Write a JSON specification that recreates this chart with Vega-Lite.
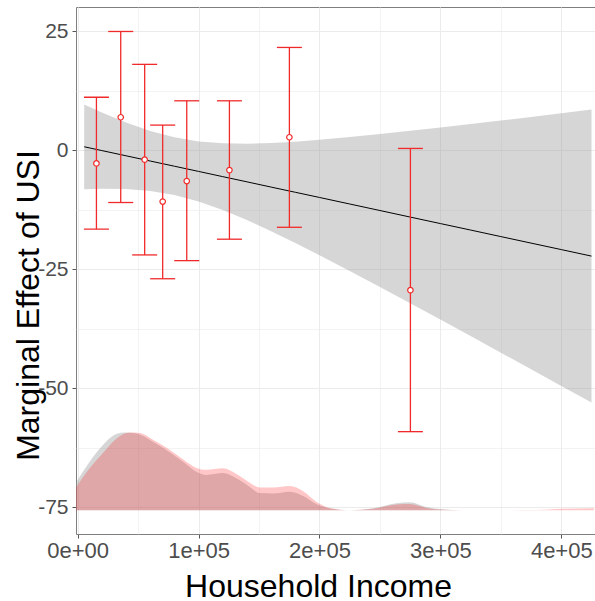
{
  "$schema": "https://vega.github.io/schema/vega-lite/v6.json",
  "autosize": {"type": "none"},
  "padding": {"left": 76, "top": 7, "right": 0, "bottom": 67},
  "width": 519,
  "height": 527,
  "background": "white",
  "config": {
    "view": {"stroke": "#7f7f7f", "strokeWidth": 1},
    "font": "Liberation Sans",
    "axis": {
      "domain": false,
      "tickColor": "#555555",
      "tickSize": 4,
      "labelColor": "#4d4d4d",
      "labelFont": "Liberation Sans",
      "labelFontSize": 21,
      "titleFont": "Liberation Sans",
      "titleFontSize": 32,
      "titleFontWeight": "normal",
      "titleColor": "black",
      "gridColor": "#ebebeb"
    }
  },
  "datasets": {
    "ribbon": [
      {"x": 5400, "fit": 0.7, "lo": -8.2, "hi": 9.6},
      {"x": 20000, "fit": -0.1, "lo": -8.11, "hi": 7.91},
      {"x": 40000, "fit": -1.19, "lo": -8.18, "hi": 5.8},
      {"x": 60000, "fit": -2.29, "lo": -8.59, "hi": 4.01},
      {"x": 80000, "fit": -3.38, "lo": -9.44, "hi": 2.68},
      {"x": 100000, "fit": -4.47, "lo": -10.77, "hi": 1.83},
      {"x": 120000, "fit": -5.57, "lo": -12.56, "hi": 1.42},
      {"x": 140000, "fit": -6.66, "lo": -14.67, "hi": 1.35},
      {"x": 160000, "fit": -7.76, "lo": -17.01, "hi": 1.49},
      {"x": 180000, "fit": -8.85, "lo": -19.48, "hi": 1.78},
      {"x": 200000, "fit": -9.94, "lo": -22.05, "hi": 2.17},
      {"x": 225000, "fit": -11.31, "lo": -25.35, "hi": 2.73},
      {"x": 250000, "fit": -12.68, "lo": -28.72, "hi": 3.36},
      {"x": 275000, "fit": -14.05, "lo": -32.14, "hi": 4.04},
      {"x": 300000, "fit": -15.42, "lo": -35.58, "hi": 4.74},
      {"x": 325000, "fit": -16.78, "lo": -39.03, "hi": 5.47},
      {"x": 350000, "fit": -18.15, "lo": -42.51, "hi": 6.21},
      {"x": 375000, "fit": -19.52, "lo": -46.0, "hi": 6.96},
      {"x": 400000, "fit": -20.88, "lo": -49.49, "hi": 7.73},
      {"x": 425000, "fit": -22.25, "lo": -53.0, "hi": 8.5}
    ],
    "bars": [
      {"x": 15500, "est": -2.8, "lo": -16.6, "hi": 11.1},
      {"x": 35600, "est": 6.9, "lo": -11.0, "hi": 24.9},
      {"x": 55400, "est": -2.0, "lo": -22.0, "hi": 18.0},
      {"x": 70300, "est": -10.8, "lo": -27.0, "hi": 5.25},
      {"x": 90200, "est": -6.5, "lo": -23.2, "hi": 10.35},
      {"x": 125500, "est": -4.2, "lo": -18.7, "hi": 10.35},
      {"x": 175100, "est": 2.7, "lo": -16.2, "hi": 21.55},
      {"x": 275200, "est": -29.4, "lo": -59.1, "hi": 0.35}
    ],
    "densGray": [
      {"x": -1400, "d": -69.8},
      {"x": 9900, "d": -65.4},
      {"x": 20900, "d": -61.9},
      {"x": 32000, "d": -59.6},
      {"x": 38900, "d": -59.3},
      {"x": 48500, "d": -59.5},
      {"x": 62300, "d": -61.2},
      {"x": 76100, "d": -63.4},
      {"x": 87100, "d": -65.4},
      {"x": 98200, "d": -67.5},
      {"x": 106500, "d": -68.2},
      {"x": 120200, "d": -67.8},
      {"x": 131300, "d": -68.9},
      {"x": 142300, "d": -70.7},
      {"x": 150500, "d": -72.0},
      {"x": 161500, "d": -72.1},
      {"x": 175400, "d": -71.7},
      {"x": 186500, "d": -72.6},
      {"x": 197400, "d": -74.3},
      {"x": 208400, "d": -75.2},
      {"x": 225000, "d": -75.6},
      {"x": 244300, "d": -75.2},
      {"x": 263600, "d": -74.1},
      {"x": 274600, "d": -73.9},
      {"x": 288400, "d": -74.9},
      {"x": 302000, "d": -75.4},
      {"x": 316000, "d": -75.6},
      {"x": 427000, "d": -75.6}
    ],
    "densPink": [
      {"x": -1400, "d": -70.8},
      {"x": 9900, "d": -66.8},
      {"x": 20900, "d": -63.6},
      {"x": 32000, "d": -60.6},
      {"x": 43000, "d": -59.3},
      {"x": 51300, "d": -59.4},
      {"x": 62300, "d": -60.8},
      {"x": 76100, "d": -62.9},
      {"x": 87100, "d": -64.9},
      {"x": 98200, "d": -66.7},
      {"x": 106500, "d": -67.1},
      {"x": 120200, "d": -66.8},
      {"x": 131300, "d": -68.0},
      {"x": 142300, "d": -69.8},
      {"x": 150500, "d": -70.8},
      {"x": 161500, "d": -70.8},
      {"x": 175400, "d": -70.5},
      {"x": 186500, "d": -71.6},
      {"x": 197400, "d": -73.8},
      {"x": 208400, "d": -75.1},
      {"x": 225000, "d": -75.6},
      {"x": 244300, "d": -75.3},
      {"x": 263600, "d": -74.4},
      {"x": 274600, "d": -74.3},
      {"x": 288400, "d": -75.1},
      {"x": 302000, "d": -75.5},
      {"x": 320000, "d": -75.6},
      {"x": 380000, "d": -75.55},
      {"x": 400000, "d": -75.3},
      {"x": 427000, "d": -75.2}
    ]
  },
  "encoding": {
    "x": {
      "field": "x",
      "type": "quantitative",
      "scale": {"domain": [-1400, 427880], "nice": false, "zero": false},
      "axis": {
        "title": "Household Income",
        "values": [0, 50000, 100000, 150000, 200000, 250000, 300000, 350000, 400000],
        "labelExpr": "datum.value == 0 ? '0e+00' : (datum.value % 100000 == 0 ? (datum.value / 100000) + 'e+05' : '')",
        "labelBaseline": "alphabetic",
        "labelFontSize": 22,
        "labelPadding": 19,
        "tickOpacity": {"condition": {"test": "datum.value % 100000 != 0", "value": 0}, "value": 1},
        "gridWidth": {"condition": {"test": "datum.value % 100000 != 0", "value": 0.6}, "value": 1},
        "titleX": 242,
        "titleY": 62,
        "titleAnchor": null,
        "titleAlign": "center",
        "titleBaseline": "alphabetic"
      }
    }
  },
  "layer": [
    {
      "data": {"name": "ribbon"},
      "mark": {"type": "area", "color": "#999999", "opacity": 0.4, "clip": true},
      "encoding": {
        "y": {
          "field": "hi",
          "type": "quantitative",
          "scale": {"domain": [-80.58, 30.04], "nice": false, "zero": false},
          "axis": {
            "title": "Marginal Effect of USI",
            "values": [-75, -62.5, -50, -37.5, -25, -12.5, 0, 12.5, 25],
            "labelExpr": "datum.value % 25 == 0 ? '' + datum.value : ''",
            "labelPadding": 4,
            "tickOpacity": {"condition": {"test": "datum.value % 25 != 0", "value": 0}, "value": 1},
            "gridWidth": {"condition": {"test": "datum.value % 25 != 0", "value": 0.6}, "value": 1},
            "titleAngle": 270,
            "titleX": -38,
            "titleY": 298,
            "titleAlign": "center",
            "titleAnchor": null,
            "titleBaseline": "alphabetic"
          }
        },
        "y2": {"field": "lo"}
      }
    },
    {
      "mark": {"type": "rule", "color": "#888888", "opacity": 0.35, "strokeWidth": 4},
      "encoding": {"y": {"datum": 0, "type": "quantitative"}, "x": null}
    },
    {
      "data": {"name": "ribbon"},
      "mark": {"type": "line", "color": "black", "strokeWidth": 1},
      "encoding": {"y": {"field": "fit", "type": "quantitative"}}
    },
    {
      "data": {"name": "densGray"},
      "mark": {"type": "area", "color": "#999999", "opacity": 0.4, "interpolate": "monotone", "clip": true},
      "encoding": {"y": {"field": "d", "type": "quantitative"}, "y2": {"datum": -75.6}}
    },
    {
      "data": {"name": "densPink"},
      "mark": {"type": "area", "color": "#ff0000", "opacity": 0.22, "interpolate": "monotone", "clip": true},
      "encoding": {"y": {"field": "d", "type": "quantitative"}, "y2": {"datum": -75.6}}
    },
    {
      "data": {"name": "bars"},
      "mark": {"type": "rule", "color": "#f02a2a", "strokeWidth": 1.3},
      "encoding": {"y": {"field": "lo", "type": "quantitative"}, "y2": {"field": "hi"}}
    },
    {
      "data": {"name": "bars"},
      "mark": {"type": "tick", "orient": "horizontal", "color": "#f02a2a", "size": 25, "thickness": 1.3, "opacity": 1},
      "encoding": {"y": {"field": "lo", "type": "quantitative"}}
    },
    {
      "data": {"name": "bars"},
      "mark": {"type": "tick", "orient": "horizontal", "color": "#f02a2a", "size": 25, "thickness": 1.3, "opacity": 1},
      "encoding": {"y": {"field": "hi", "type": "quantitative"}}
    },
    {
      "data": {"name": "bars"},
      "mark": {"type": "point", "shape": "circle", "filled": true, "fill": "white", "stroke": "#f02a2a", "strokeWidth": 1.2, "size": 30, "opacity": 1},
      "encoding": {"y": {"field": "est", "type": "quantitative"}}
    }
  ]
}
